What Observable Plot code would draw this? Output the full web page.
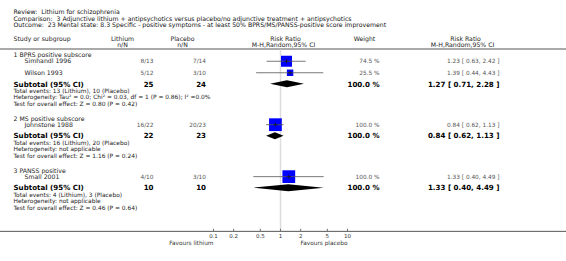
<!DOCTYPE html>
<html><head><meta charset="utf-8">
<script src="https://cdn.jsdelivr.net/npm/d3@7"></script>
<script src="https://cdn.jsdelivr.net/npm/@observablehq/plot@0.6"></script>
<style>
html,body{margin:0;padding:0;background:#fff;}
#chart svg{display:block;}
</style></head><body><div id="chart"></div>
<script>
// ---- data ----
const reviewTitle = "Review:\u00a0 Lithium for schizophrenia";
const comparisonTitle = "Comparison:\u00a0 3 Adjunctive lithium + antipsychotics versus placebo/no adjunctive treatment + antipsychotics";
const outcomeTitle = "Outcome:\u00a0 23 Mental state: 8.3 Specific - positive symptoms - at least 50% BPRS/MS/PANSS-positive score improvement";

const groups = ["1 BPRS positive subscore", "2 MS positive subscore", "3 PANSS positive"];
const studies = ["Simhandl 1996", "Wilson 1993", "Johnstone 1988", "Small 2001"];
const studyGroup = [0, 0, 1, 2];
const lithiumEvents = [8, 5, 16, 4];
const lithiumTotal = [13, 12, 22, 10];
const placeboEvents = [7, 3, 20, 3];
const placeboTotal = [14, 10, 23, 10];
const weights = [74.5, 25.5, 100.0, 100.0];
const riskRatio = [1.23, 1.39, 0.84, 1.33];
const ciLow = [0.63, 0.44, 0.62, 0.40];
const ciHigh = [2.42, 4.43, 1.13, 4.49];

const subLithiumTotal = [25, 22, 10];
const subPlaceboTotal = [24, 23, 10];
const subLithiumEvents = [13, 16, 4];
const subPlaceboEvents = [10, 20, 3];
const subRiskRatio = [1.27, 0.84, 1.33];
const subLow = [0.71, 0.62, 0.40];
const subHigh = [2.28, 1.13, 4.49];
const heterogeneity = [
  "Heterogeneity: Tau\u00b2 = 0.0; Chi\u00b2 = 0.03, df = 1 (P = 0.86); I\u00b2 =0.0%",
  "Heterogeneity: not applicable",
  "Heterogeneity: not applicable"
];
const overallEffect = [
  "Test for overall effect: Z = 0.80 (P = 0.42)",
  "Test for overall effect: Z = 1.16 (P = 0.24)",
  "Test for overall effect: Z = 0.46 (P = 0.64)"
];
const tickValues = [0.1, 0.2, 0.5, 1, 2, 5, 10];
const tickLabels = ["0.1", "0.2", "0.5", "1", "2", "5", "10"];
const favoursLeft = "Favours lithium";
const favoursRight = "Favours placebo";

// ---- layout ----
const W = 566, H = 261;
const col = {title: 13, study: 24, li: 153, liHead: 122, pl: 205.5, plHead: 182, rrHead: 285, wHead: 364, w: 379, rr: 499, rr2Head: 463};
const fmt = v => v.toFixed(2);
const ciText = (r, l, h) => `${fmt(r)} [ ${fmt(l)}, ${fmt(h)} ]`;

const groupRows = [], studyRows = [], subRows = [], noteRows = [];
let y = 55;
groups.forEach((g, gi) => {
  groupRows.push({text: g, y});
  y += 5.75;
  studies.forEach((s, i) => {
    if (studyGroup[i] !== gi) return;
    studyRows.push({
      name: s, y,
      li: `${lithiumEvents[i]}/${lithiumTotal[i]}`,
      pl: `${placeboEvents[i]}/${placeboTotal[i]}`,
      weight: weights[i], wText: `${weights[i].toFixed(1)} %`,
      rr: riskRatio[i], lo: ciLow[i], hi: ciHigh[i],
      rrText: ciText(riskRatio[i], ciLow[i], ciHigh[i])
    });
    y += 11.5;
  });
  y += 0.0;
  subRows.push({
    y, li: String(subLithiumTotal[gi]), pl: String(subPlaceboTotal[gi]),
    rr: subRiskRatio[gi], lo: subLow[gi], hi: subHigh[gi],
    rrText: ciText(subRiskRatio[gi], subLow[gi], subHigh[gi])
  });
  y += 6.9; noteRows.push({y, text: `Total events: ${subLithiumEvents[gi]} (Lithium), ${subPlaceboEvents[gi]} (Placebo)`});
  y += 6.4; noteRows.push({y, text: heterogeneity[gi]});
  y += 6.4; noteRows.push({y, text: overallEffect[gi]});
  y += 15;
});
const axisY = y + 8.5;
const headerRuleY = 48.5;
const titleRows = [{y: 12, text: reviewTitle}, {y: 18.5, text: comparisonTitle}, {y: 24.8, text: outcomeTitle}];
const head1 = 39, head2 = 45;
const diamondH = 3.5;
const diamondPts = subRows.flatMap((s, i) => [
  {g: i, y: s.y - diamondH, x1: s.rr, x2: s.rr},
  {g: i, y: s.y, x1: s.lo, x2: s.hi},
  {g: i, y: s.y + diamondH, x1: s.rr, x2: s.rr}
]);

const FS = 6.2, FB = 7.1;
const L = (data, opts) => Plot.text(data, {frameAnchor: "left", textAnchor: "start", fontSize: FS, fill: "#222", ...opts});

const chart = Plot.plot({
  width: W, height: H,
  marginTop: 0, marginLeft: 0, marginRight: 0, marginBottom: H - axisY,
  style: {fontFamily: "DejaVu Sans", background: "#fff", overflow: "visible"},
  x: {type: "log", domain: [0.1, 10], range: [213, 347], axis: null},
  y: {domain: [0, axisY], range: [0, axisY], axis: null},
  r: {type: "sqrt", domain: [0, 100], range: [0, 7.2]},
  marks: [
    // titles
    L(titleRows, {y: "y", text: "text", dx: col.title, fill: "#111"}),
    // column headers
    L(["Study or subgroup"], {y: head1, text: d => d, dx: col.title}),
    L(["Lithium"], {y: head1, text: d => d, dx: col.liHead, textAnchor: "middle"}),
    L(["n/N"], {y: head2, text: d => d, dx: col.liHead, textAnchor: "middle"}),
    L(["Placebo"], {y: head1, text: d => d, dx: col.plHead, textAnchor: "middle"}),
    L(["n/N"], {y: head2, text: d => d, dx: col.plHead, textAnchor: "middle"}),
    L(["Risk Ratio"], {y: head1, text: d => d, dx: col.rrHead, textAnchor: "middle"}),
    L(["M-H,Random,95% CI"], {y: head2, text: d => d, dx: col.rrHead - 2, textAnchor: "middle"}),
    L(["Weight"], {y: head1, text: d => d, dx: col.wHead, textAnchor: "middle"}),
    L(["Risk Ratio"], {y: head1, text: d => d, dx: col.rr2Head + 2, textAnchor: "middle"}),
    L(["M-H,Random,95% CI"], {y: head2, text: d => d, dx: col.rr2Head - 1, textAnchor: "middle"}),
    Plot.ruleY([headerRuleY], {stroke: "#aaa", strokeWidth: 2}),
    // null line
    Plot.ruleX([1], {y1: headerRuleY + 1, y2: axisY, stroke: "#dcdcdc", strokeWidth: 1.5}),
    // group titles
    L(groupRows, {y: "y", text: "text", dx: col.title}),
    // study rows
    L(studyRows, {y: "y", text: "name", dx: col.study}),
    L(studyRows, {y: "y", text: "li", dx: col.li, textAnchor: "end", fill: "#555", fontSize: 5.8}),
    L(studyRows, {y: "y", text: "pl", dx: col.pl, textAnchor: "end", fill: "#555", fontSize: 5.8}),
    L(studyRows, {y: "y", text: "wText", dx: col.w, textAnchor: "end", fill: "#555", fontSize: 5.8}),
    L(studyRows, {y: "y", text: "rrText", dx: col.rr, textAnchor: "end", fill: "#555", fontSize: 5.8}),
    Plot.dot(studyRows, {x: "rr", y: "y", r: "weight", symbol: "square", fill: "#0000ff"}),
    Plot.ruleY(studyRows, {y: "y", x1: "lo", x2: "hi", stroke: "#555", strokeWidth: 0.8}),
    Plot.dot(studyRows, {x: "rr", y: "y", r: 1.5, symbol: "plus", stroke: "#111", strokeWidth: 0.7}),
    // subtotal rows
    L(subRows, {y: "y", text: () => "Subtotal (95% CI)", dx: col.title, fontSize: FB, fontWeight: "bold", fill: "#000"}),
    L(subRows, {y: "y", text: "li", dx: col.li, textAnchor: "end", fontSize: FB, fontWeight: "bold", fill: "#000"}),
    L(subRows, {y: "y", text: "pl", dx: col.pl, textAnchor: "end", fontSize: FB, fontWeight: "bold", fill: "#000"}),
    L(subRows, {y: "y", text: () => "100.0 %", dx: col.w, textAnchor: "end", fontSize: FB, fontWeight: "bold", fill: "#000"}),
    L(subRows, {y: "y", text: "rrText", dx: col.rr, textAnchor: "end", fontSize: FB, fontWeight: "bold", fill: "#000"}),
    Plot.areaX(diamondPts, {y: "y", x1: "x1", x2: "x2", z: "g", fill: "#000"}),
    // notes
    L(noteRows, {y: "y", text: "text", dx: col.title, fontSize: 5.9}),
    // axis
    Plot.ruleY([axisY], {stroke: "#555", strokeWidth: 1}),
    Plot.axisX({ticks: tickValues, tickFormat: d => tickLabels[tickValues.indexOf(d)], tickSize: -2, tickPadding: 4.5, fontSize: 5.5, stroke: "#666", fill: "#333"}),
    Plot.text([favoursLeft], {x: 0.1, y: axisY + 11.5, text: d => d, textAnchor: "end", fontSize: 5.8, fill: "#333"}),
    Plot.text([favoursRight], {x: 10, y: axisY + 11.5, text: d => d, textAnchor: "end", fontSize: 5.8, fill: "#333"})
  ]
});
document.getElementById("chart").appendChild(chart);
</script></body></html>
